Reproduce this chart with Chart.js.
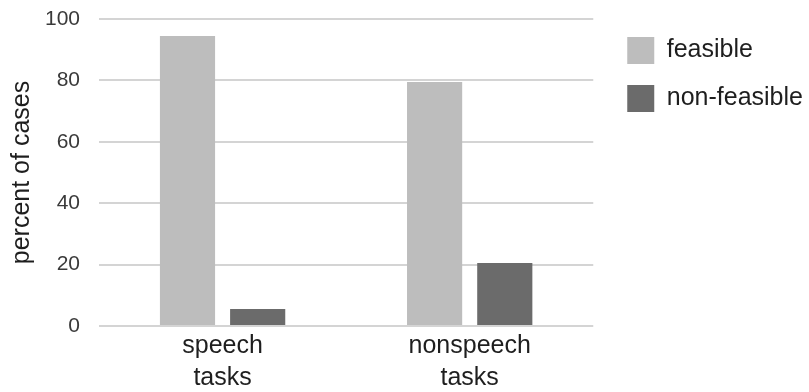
<!DOCTYPE html>
<html>
<head>
<meta charset="utf-8">
<script src="https://cdn.jsdelivr.net/npm/chart.js@4/dist/chart.umd.min.js"></script>
<style>
  html, body { margin: 0; padding: 0; background: #fff; }
  #wrap { width: 809px; height: 392px; }
</style>
</head>
<body>
<div id="wrap"><canvas id="taskChart"></canvas></div>
<script>
// chart data
const categories = [["speech", "tasks"], ["nonspeech", "tasks"]];
const feasible = [94.5, 79.5];
const nonFeasible = [5.5, 20.5];
const yTicks = [0, 20, 40, 60, 80, 100];

const FONT = "'Liberation Sans', Arial, sans-serif";

// nudge the legend: wider gap to the plot, items kept where they are
const legendNudge = {
  id: "legendNudge",
  afterInit(chart) {
    const lg = chart.legend;
    if (!lg) return;
    const fit = lg.fit;
    lg.fit = function () { fit.call(this); this.width += 12; };
    const draw = lg.draw;
    lg.draw = function () {
      this.left += 13; this.top -= 3;
      draw.call(this);
      this.left -= 13; this.top += 3;
    };
  }
};

const ctx = document.getElementById("taskChart").getContext("2d");

window.taskChart = new Chart(ctx, {
  type: "bar",
  data: {
    labels: categories,
    datasets: [
      { label: "feasible", data: feasible, backgroundColor: "#bdbdbd" },
      { label: "non-feasible", data: nonFeasible, backgroundColor: "#6b6b6b" }
    ]
  },
  plugins: [legendNudge],
  options: {
    responsive: true,
    maintainAspectRatio: false,
    animation: false,
    categoryPercentage: 0.568,
    barPercentage: 0.786,
    layout: { padding: { top: 19, right: 2, bottom: -6, left: 0 } },
    scales: {
      x: {
        grid: { display: false, drawTicks: false },
        border: { display: false },
        ticks: {
          color: "#1e1e1e",
          padding: 4,
          font: { family: FONT, size: 25, lineHeight: 1.28 }
        }
      },
      y: {
        min: 0,
        max: 100,
        afterBuildTicks: axis => { axis.ticks = yTicks.map(v => ({ value: v })); },
        grid: { color: "#d4d4d4", lineWidth: 2, drawTicks: true, tickLength: 19, tickColor: "rgba(0,0,0,0)" },
        border: { display: false },
        ticks: {
          color: "#3a3a3a",
          padding: 0,
          font: { family: FONT, size: 21 }
        },
        title: {
          display: true,
          text: "percent of cases",
          color: "#1e1e1e",
          padding: { top: 10, bottom: 10 },
          font: { family: FONT, size: 25, lineHeight: 1 }
        }
      }
    },
    plugins: {
      legend: {
        position: "right",
        align: "start",
        labels: {
          boxWidth: 27,
          boxHeight: 27,
          padding: 21,
          color: "#1e1e1e",
          font: { family: FONT, size: 25 }
        }
      },
      tooltip: { enabled: false }
    }
  }
});
</script>
</body>
</html>
